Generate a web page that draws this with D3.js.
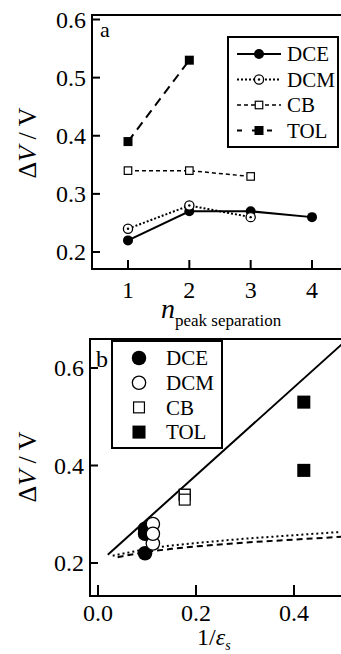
<!DOCTYPE html>
<html>
<head>
<meta charset="utf-8">
<script src="https://cdn.jsdelivr.net/npm/d3@7"></script>
<style>
  body { margin: 0; background: #fff; }
  svg { display: block; }
  text { font-family: "Liberation Serif", "DejaVu Serif", serif; fill: #000; }
</style>
</head>
<body>
<div id="plot"></div>
<script>
// data for both panels
const nPeak = [1, 2, 3, 4];
const dce = [0.22, 0.27, 0.27, 0.26];
const dcm = [0.24, 0.28, 0.26];
const cb = [0.34, 0.34, 0.33];
const tol = [0.39, 0.53];

// 1/eps for each solvent
const invEps = {DCE: 0.096, DCM: 0.112, CB: 0.177, TOL: 0.42};

// model curves in panel b
const fitSolidX = [0.02, 0.55];
const fitSolidY = [0.217, 0.696];
const fitDotX = [0.03, 0.05, 0.1, 0.15, 0.2, 0.3, 0.4, 0.5, 0.55];
const fitDotY = [0.215, 0.219, 0.229, 0.236, 0.241, 0.250, 0.257, 0.264, 0.267];
const fitDashX = [0.04, 0.05, 0.1, 0.15, 0.2, 0.3, 0.4, 0.5, 0.55];
const fitDashY = [0.212, 0.214, 0.223, 0.229, 0.234, 0.242, 0.248, 0.254, 0.257];

const yTicksA = [0.2, 0.3, 0.4, 0.5, 0.6];
const yTicksB = [0.2, 0.4, 0.6];
const xTicksB = [0.0, 0.2, 0.4];

const W = 341, H = 654;
const svg = d3.select("#plot").append("svg")
    .attr("width", W).attr("height", H);

// ---------- panel a ----------
const xa = d3.scaleLinear().domain([1, 4]).range([128, 312]);
const ya = d3.scaleLinear().domain([0.2, 0.6]).range([252, 19.5]);
const fa = {x0: 92, x1: 345, y0: 15, y1: 269};

const ga = svg.append("g");
ga.append("rect")
    .attr("x", fa.x0).attr("y", fa.y0)
    .attr("width", fa.x1 - fa.x0).attr("height", fa.y1 - fa.y0)
    .attr("fill", "none").attr("stroke", "#000").attr("stroke-width", 2);

yTicksA.forEach(v => {
    ga.append("line").attr("x1", fa.x0).attr("x2", fa.x0 + 8)
        .attr("y1", ya(v)).attr("y2", ya(v))
        .attr("stroke", "#000").attr("stroke-width", 2);
    ga.append("text").attr("x", fa.x0 - 6).attr("y", ya(v))
        .attr("dy", "0.34em").attr("text-anchor", "end")
        .attr("font-size", 24).text(v.toFixed(1));
});
nPeak.forEach(v => {
    ga.append("line").attr("x1", xa(v)).attr("x2", xa(v))
        .attr("y1", fa.y1).attr("y2", fa.y1 - 9)
        .attr("stroke", "#000").attr("stroke-width", 2);
    ga.append("text").attr("x", xa(v)).attr("y", 298)
        .attr("text-anchor", "middle").attr("font-size", 24).text(v);
});

ga.append("text").attr("x", 100).attr("y", 37).attr("font-size", 22).text("a");

const lineA = d3.line().x(d => xa(d[0])).y(d => ya(d[1]));
const seriesA = [
    {name: "DCE", vals: dce, dash: null, w: 2},
    {name: "DCM", vals: dcm, dash: "2,2", w: 2},
    {name: "CB", vals: cb, dash: "4,3", w: 1.5},
    {name: "TOL", vals: tol, dash: "9,6", w: 2}
];
seriesA.forEach(s => {
    const pts = s.vals.map((v, i) => [nPeak[i], v]);
    ga.append("path").datum(pts)
        .attr("d", lineA).attr("fill", "none").attr("stroke", "#000")
        .attr("stroke-width", s.w).attr("stroke-dasharray", s.dash);
});

function marker(g, name, x, y, big) {
    const k = big ? 1.45 : 1;
    if (name === "DCE") {
        g.append("circle").attr("cx", x).attr("cy", y).attr("r", 5 * k).attr("fill", "#000");
    } else if (name === "DCM") {
        g.append("circle").attr("cx", x).attr("cy", y).attr("r", 4.6 * k)
            .attr("fill", "#fff").attr("stroke", "#000").attr("stroke-width", 1.3);
        if (!big) g.append("circle").attr("cx", x).attr("cy", y).attr("r", 1.2).attr("fill", "#000");
    } else if (name === "CB") {
        const s = 7.5 * k;
        g.append("rect").attr("x", x - s / 2).attr("y", y - s / 2).attr("width", s).attr("height", s)
            .attr("fill", "#fff").attr("stroke", "#000").attr("stroke-width", 1.2);
    } else {
        const s = 9 * k;
        g.append("rect").attr("x", x - s / 2).attr("y", y - s / 2).attr("width", s).attr("height", s)
            .attr("fill", "#000");
    }
}

seriesA.forEach(s => {
    s.vals.forEach((v, i) => marker(ga, s.name, xa(nPeak[i]), ya(v), false));
});

// legend a
const la = ga.append("g");
la.append("rect").attr("x", 228).attr("y", 37).attr("width", 110).attr("height", 110)
    .attr("fill", "#fff").attr("stroke", "#000").attr("stroke-width", 2);
seriesA.forEach((s, i) => {
    const yy = 54 + i * 25.5;
    la.append("line").attr("x1", 237).attr("x2", 281).attr("y1", yy).attr("y2", yy)
        .attr("stroke", "#000").attr("stroke-width", s.w).attr("stroke-dasharray", s.name === "TOL" ? "5,10" : s.dash);
    marker(la, s.name, 259, yy, false);
    la.append("text").attr("x", 287).attr("y", yy).attr("dy", "0.35em")
        .attr("font-size", 21).text(s.name);
});

// y label a
const yla = ga.append("text")
    .attr("transform", "translate(36,143) rotate(-90)")
    .attr("text-anchor", "middle").attr("font-size", 26);
yla.append("tspan").text("Δ");
yla.append("tspan").attr("font-style", "italic").text("V");
yla.append("tspan").text(" / V");

// x label a
const xla = ga.append("text").attr("x", 161).attr("y", 318).attr("font-size", 28);
xla.append("tspan").attr("font-style", "italic").text("n");
xla.append("tspan").attr("font-size", 17).attr("dy", 8).text("peak separation");

// ---------- panel b ----------
const xb = d3.scaleLinear().domain([0, 0.4]).range([98, 294]);
const yb = d3.scaleLinear().domain([0.2, 0.6]).range([563, 368]);
const fb = {x0: 90, x1: 345, y0: 339, y1: 596};

const gb = svg.append("g");
gb.append("clipPath").attr("id", "clipb").append("rect")
    .attr("x", fb.x0).attr("y", fb.y0).attr("width", fb.x1 - fb.x0).attr("height", fb.y1 - fb.y0);
gb.append("rect")
    .attr("x", fb.x0).attr("y", fb.y0)
    .attr("width", fb.x1 - fb.x0).attr("height", fb.y1 - fb.y0)
    .attr("fill", "none").attr("stroke", "#000").attr("stroke-width", 2);

yTicksB.forEach(v => {
    gb.append("line").attr("x1", fb.x0).attr("x2", fb.x0 + 8)
        .attr("y1", yb(v)).attr("y2", yb(v))
        .attr("stroke", "#000").attr("stroke-width", 2);
    gb.append("text").attr("x", fb.x0 - 6).attr("y", yb(v))
        .attr("dy", "0.34em").attr("text-anchor", "end")
        .attr("font-size", 24).text(v.toFixed(1));
});
xTicksB.forEach(v => {
    gb.append("line").attr("x1", xb(v)).attr("x2", xb(v))
        .attr("y1", fb.y1).attr("y2", fb.y1 - 11)
        .attr("stroke", "#000").attr("stroke-width", 2);
    gb.append("text").attr("x", xb(v)).attr("y", 621)
        .attr("text-anchor", "middle").attr("font-size", 24).text(v.toFixed(1));
});

const lineB = d3.line().x(d => xb(d[0])).y(d => yb(d[1]));
const curves = gb.append("g").attr("clip-path", "url(#clipb)");
curves.append("path").datum(fitSolidX.map((x, i) => [x, fitSolidY[i]]))
    .attr("d", lineB).attr("fill", "none").attr("stroke", "#000").attr("stroke-width", 2);
curves.append("path").datum(fitDotX.map((x, i) => [x, fitDotY[i]]))
    .attr("d", lineB).attr("fill", "none").attr("stroke", "#000").attr("stroke-width", 2)
    .attr("stroke-dasharray", "2,3");
curves.append("path").datum(fitDashX.map((x, i) => [x, fitDashY[i]]))
    .attr("d", lineB).attr("fill", "none").attr("stroke", "#000").attr("stroke-width", 2)
    .attr("stroke-dasharray", "6,4");

seriesA.forEach(s => {
    s.vals.forEach(v => marker(gb, s.name, xb(invEps[s.name]), yb(v), true));
});

gb.append("text").attr("x", 96).attr("y", 367).attr("font-size", 24).text("b");

// legend b
const lb = gb.append("g");
lb.append("rect").attr("x", 112).attr("y", 341).attr("width", 110).attr("height", 107)
    .attr("fill", "#fff").attr("stroke", "#000").attr("stroke-width", 2);
seriesA.forEach((s, i) => {
    const yy = 358 + i * 24.7;
    marker(lb, s.name, 139, yy, true);
    lb.append("text").attr("x", 166).attr("y", yy).attr("dy", "0.35em")
        .attr("font-size", 21).text(s.name);
});

const ylb = gb.append("text")
    .attr("transform", "translate(36,467) rotate(-90)")
    .attr("text-anchor", "middle").attr("font-size", 26);
ylb.append("tspan").text("Δ");
ylb.append("tspan").attr("font-style", "italic").text("V");
ylb.append("tspan").text(" / V");

const xlb = gb.append("text").attr("x", 197).attr("y", 645).attr("font-size", 24);
xlb.append("tspan").text("1/");
xlb.append("tspan").attr("font-style", "italic").text("ε");
xlb.append("tspan").attr("font-style", "italic").attr("font-size", 14).attr("dy", 5).text("s");
</script>
</body>
</html>
